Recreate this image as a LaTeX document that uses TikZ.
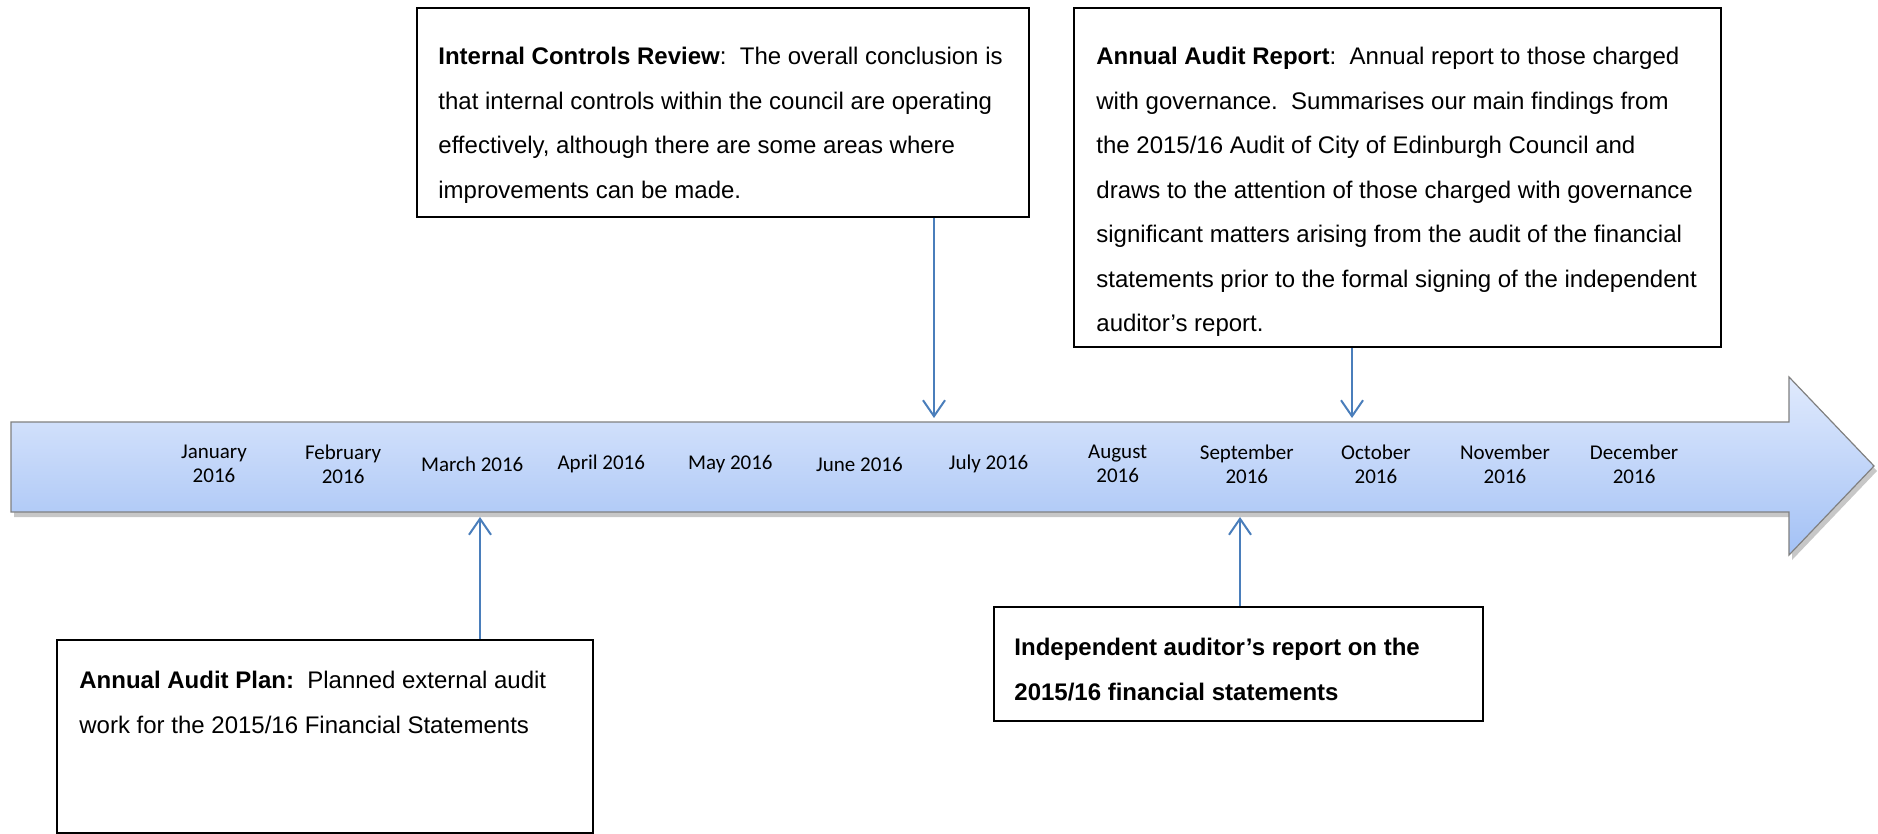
\documentclass[tikz,border=0pt]{standalone}
\usepackage{fontspec}
\setmainfont{Liberation Sans}
\newfontfamily\calibri{Carlito}
\usetikzlibrary{arrows.meta,fit}
\definecolor{barTop}{HTML}{E0EAFD}
\definecolor{barBottom}{HTML}{A3C1F5}
\definecolor{linkBlue}{HTML}{4A7EBB}

\begin{document}
\begin{tikzpicture}[x=0.5pt, y=-0.5pt,
  box/.style={draw=black, line width=1pt, inner sep=0pt},
  txt/.style={align=left, inner sep=0pt, font=\fontsize{12}{22.25}\selectfont},
  month/.style={align=center, inner sep=0pt, font=\calibri\fontsize{10.5}{12}\selectfont},
  link/.style={linkBlue, line width=1pt, -{Straight Barb[length=8pt,width=11pt]}}]
	\useasboundingbox (0,0) rectangle (1878,834);
	% timeline arrow with its shadow
	\fill[black, opacity=.22, shift={(3,5)}] (11,422) -- (1789,422) -- (1789,377) -- (1874,466) -- (1789,555) -- (1789,512) -- (11,512) -- cycle;
	\draw[gray, line width=.6pt, top color=barTop, bottom color=barBottom] (11,422) -- (1789,422) -- (1789,377) -- (1874,466) -- (1789,555) -- (1789,512) -- (11,512) -- cycle;
	\foreach \m [count=\i] in {{January\\2016}, {February\\2016}, {March 2016}, {April 2016}, {May 2016}, {June 2016}, {July 2016}, {August\\2016}, {September\\2016}, {October\\2016}, {November\\2016}, {December\\2016}}
	  \node[month] (m\i) at ({214+129.1*(\i-1)},464) {\m};
	% where the connectors meet the timeline
	\coordinate (reviewTip) at (934,418);
	\coordinate (reportTip) at (1352,418);
	\coordinate (planTip) at (480,517);
	\coordinate (opinionTip) at (1240,517);
	% boxes
	\node[box, fit={(417,8) (1029,217)}] (review) {};
	\node[txt, anchor=north west] (reviewText) at (438,47) {\textbf{Internal Controls Review}:\ \ The overall conclusion is\\
	  that internal controls within the council are operating\\
	  effectively, although there are some areas where\\
	  improvements can be made.};
	\node[box, fit={(1074,8) (1721,347)}] (report) {};
	\node[txt, anchor=north west] (reportText) at (1096,47) {\textbf{Annual Audit Report}:\ \ Annual report to those charged\\
	  with governance.\ \ Summarises our main findings from\\
	  the 2015/16 Audit of City of Edinburgh Council and\\
	  draws to the attention of those charged with governance\\
	  significant matters arising from the audit of the financial\\
	  statements prior to the formal signing of the independent\\
	  auditor’s report.};
	\node[box, fit={(57,640) (593,833)}] (plan) {};
	\node[txt, anchor=north west] (planText) at (79,671) {\textbf{Annual Audit Plan:}\ \ Planned external audit\\
	  work for the 2015/16 Financial Statements};
	\node[box, fit={(994,607) (1483,721)}] (opinion) {};
	\node[txt, anchor=north west] (opinionText) at (1014,638) {\textbf{Independent auditor’s report on the}\\
	  \textbf{2015/16 financial statements}};
	% connectors
	\draw[link] (review.south -| reviewTip) -- (reviewTip);
	\draw[link] (report.south -| reportTip) -- (reportTip);
	\draw[link] (plan.north -| planTip) -- (planTip);
	\draw[link] (opinion.north -| opinionTip) -- (opinionTip);
\end{tikzpicture}
\end{document}
